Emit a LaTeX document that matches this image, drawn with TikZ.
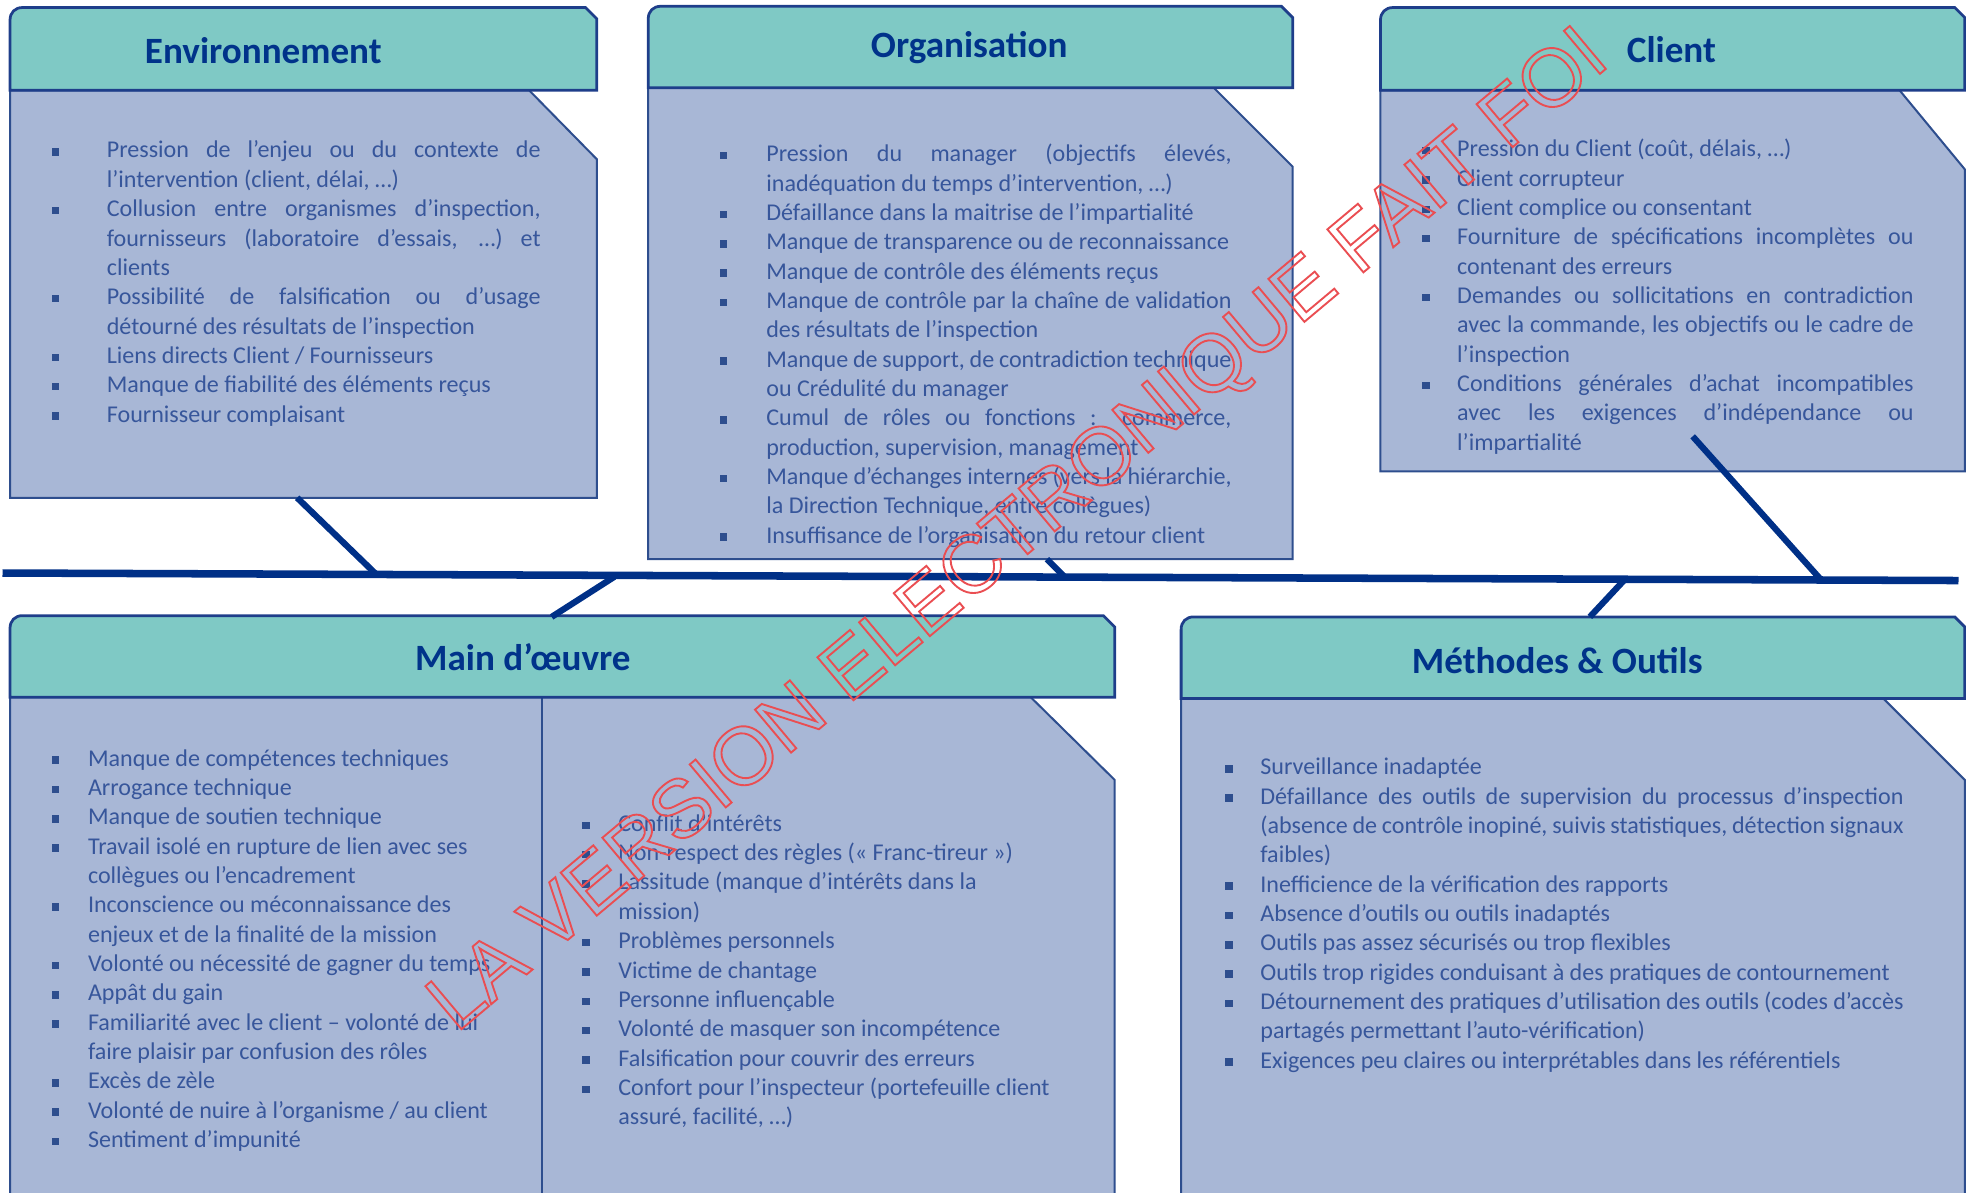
\documentclass[tikz,border=0pt]{standalone}
\usepackage{fontspec}
\setmainfont{Carlito}
\newfontfamily\wmfont{Liberation Sans}
\usetikzlibrary{calc}

\definecolor{headfill}{RGB}{127,201,197}
\definecolor{bodyfill}{RGB}{168,183,214}
\definecolor{edgeblue}{RGB}{46,78,142}
\definecolor{headedge}{RGB}{30,62,138}
\definecolor{spineblue}{RGB}{0,48,135}
\definecolor{titleblue}{RGB}{0,51,138}
\definecolor{textblue}{RGB}{55,86,155}
\definecolor{markred}{RGB}{234,78,82}

% list helpers: bullet + justified / left line, continuation lines
\newlength\bulw \newlength\txtw
\newcommand\bulmark{\textcolor{edgeblue}{\rule[1.8pt]{6pt}{6pt}}}
\newcommand\ibj[1]{\par\noindent\hbox to \bulw{\bulmark\hss}\makebox[\txtw][s]{#1}}
\newcommand\ibl[1]{\par\noindent\hbox to \bulw{\bulmark\hss}#1}
\newcommand\icj[1]{\par\noindent\hspace*{\bulw}\makebox[\txtw][s]{#1}}
\newcommand\icl[1]{\par\noindent\hspace*{\bulw}#1}

\tikzset{
  headbox/.style={fill=headfill, draw=headedge, line width=2.2pt, line join=miter},
  bodybox/.style={fill=bodyfill, draw=edgeblue, line width=1.6pt},
  titletext/.style={anchor=base, inner sep=0pt, text=titleblue, font=\bfseries\fontsize{29.6}{34}\selectfont},
  listtext/.style={anchor=base west, inner sep=0pt, text=textblue, font=\fontsize{19.2}{23.4}\selectfont},
  spine/.style={draw=spineblue, line width=6pt},
  branch/.style={draw=spineblue, line width=5pt},
}

\begin{document}
\begin{tikzpicture}[x=1pt, y=-1pt]
\useasboundingbox (0,0) rectangle (1568,951);
\clip (0,0) rectangle (1568,951);

% ---------- Environnement ----------
\draw[bodybox] (8,72) -- (422,72) -- (476,127) -- (476,397) -- (8,397) -- cycle;
\draw[headbox] (8,72) -- (8,16) .. controls (8,10) and (12,6) .. (18,6) -- (467,6) -- (476,15) -- (476,72) -- cycle;
\node[titletext] (tenv) at (210,51) {Environnement};
\node[listtext] (lenv) at (41,126) {\parbox[t]{440pt}{\setlength\bulw{44pt}\setlength\txtw{346pt}%
\ibj{Pression de l’enjeu ou du contexte de}
\icl{l’intervention (client, délai, …)}
\ibj{Collusion entre organismes d’inspection,}
\icj{fournisseurs (laboratoire d’essais, …) et}
\icl{clients}
\ibj{Possibilité de falsification ou d’usage}
\icl{détourné des résultats de l’inspection}
\ibl{Liens directs Client / Fournisseurs}
\ibl{Manque de fiabilité des éléments reçus}
\ibl{Fournisseur complaisant}}};

% ---------- Organisation ----------
\draw[bodybox] (517,70) -- (968,70) -- (1031,133) -- (1031,446) -- (517,446) -- cycle;
\draw[headbox] (517,70) -- (517,15) .. controls (517,9) and (521,5) .. (527,5) -- (1022,5) -- (1031,14) -- (1031,70) -- cycle;
\node[titletext] (torg) at (773,46) {Organisation};
\node[listtext] (lorg) at (574,129) {\parbox[t]{440pt}{\setlength\bulw{37pt}\setlength\txtw{371pt}%
\ibj{Pression du manager (objectifs élevés,}
\icl{inadéquation du temps d’intervention, …)}
\ibl{Défaillance dans la maitrise de l’impartialité}
\ibl{Manque de transparence ou de reconnaissance}
\ibl{Manque de contrôle des éléments reçus}
\ibj{Manque de contrôle par la chaîne de validation}
\icl{des résultats de l’inspection}
\ibj{Manque de support, de contradiction technique}
\icl{ou Crédulité du manager}
\ibj{Cumul de rôles ou fonctions : commerce,}
\icl{production, supervision, management}
\ibj{Manque d’échanges internes (vers la hiérarchie,}
\icl{la Direction Technique, entre collègues)}
\ibl{Insuffisance de l’organisation du retour client}}};

% ---------- Client ----------
\draw[bodybox] (1101,72) -- (1515,72) -- (1567,135) -- (1567,376) -- (1101,376) -- cycle;
\draw[headbox] (1101,72) -- (1101,16) .. controls (1101,10) and (1105,6) .. (1111,6) -- (1559,6) -- (1567,14) -- (1567,72) -- cycle;
\node[titletext] (tcli) at (1333,50) {Client};
\node[listtext] (lcli) at (1134,125) {\parbox[t]{420pt}{\setlength\bulw{28pt}\setlength\txtw{364pt}%
\ibl{Pression du Client (coût, délais, …)}
\ibl{Client corrupteur}
\ibl{Client complice ou consentant}
\ibj{Fourniture de spécifications incomplètes ou}
\icl{contenant des erreurs}
\ibj{Demandes ou sollicitations en contradiction}
\icj{avec la commande, les objectifs ou le cadre de}
\icl{l’inspection}
\ibj{Conditions générales d’achat incompatibles}
\icj{avec les exigences d’indépendance ou}
\icl{l’impartialité}}};

% ---------- Main d'oeuvre ----------
\draw[bodybox] (8,556) -- (822,556) -- (889,622) -- (889,965) -- (8,965) -- cycle;
\draw[edgeblue, line width=1.6pt] (432,556) -- (432,965);
\draw[headbox] (8,556) -- (8,501) .. controls (8,495) and (12,491) .. (18,491) -- (880,491) -- (889,500) -- (889,556) -- cycle;
\node[titletext] (tmo) at (417,535) {Main d’œuvre};
\node[listtext] (lmo1) at (41,611) {\parbox[t]{400pt}{\setlength\bulw{29pt}%
\ibl{Manque de compétences techniques}
\ibl{Arrogance technique}
\ibl{Manque de soutien technique}
\ibl{Travail isolé en rupture de lien avec ses}
\icl{collègues ou l’encadrement}
\ibl{Inconscience ou méconnaissance des}
\icl{enjeux et de la finalité de la mission}
\ibl{Volonté ou nécessité de gagner du temps}
\ibl{Appât du gain}
\ibl{Familiarité avec le client – volonté de lui}
\icl{faire plaisir par confusion des rôles}
\ibl{Excès de zèle}
\ibl{Volonté de nuire à l’organisme / au client}
\ibl{Sentiment d’impunité}}};
\node[listtext] (lmo2) at (464,663) {\parbox[t]{420pt}{\setlength\bulw{29pt}%
\ibl{Conflit d’intérêts}
\ibl{Non-respect des règles («~Franc-tireur~»)}
\ibl{Lassitude (manque d’intérêts dans la}
\icl{mission)}
\ibl{Problèmes personnels}
\ibl{Victime de chantage}
\ibl{Personne influençable}
\ibl{Volonté de masquer son incompétence}
\ibl{Falsification pour couvrir des erreurs}
\ibl{Confort pour l’inspecteur (portefeuille client}
\icl{assuré, facilité, …)}}};

% ---------- Methodes & Outils ----------
\draw[bodybox] (942,557) -- (1502,557) -- (1567,622) -- (1567,965) -- (942,965) -- cycle;
\draw[headbox] (942,557) -- (942,502) .. controls (942,496) and (946,492) .. (952,492) -- (1559,492) -- (1567,500) -- (1567,557) -- cycle;
\node[titletext] (tmeth) at (1242,537) {Méthodes \& Outils};
\node[listtext] (lmeth) at (977,618) {\parbox[t]{580pt}{\setlength\bulw{28pt}\setlength\txtw{513pt}%
\ibl{Surveillance inadaptée}
\ibj{Défaillance des outils de supervision du processus d’inspection}
\icj{(absence de contrôle inopiné, suivis statistiques, détection signaux}
\icl{faibles)}
\ibl{Inefficience de la vérification des rapports}
\ibl{Absence d’outils ou outils inadaptés}
\ibl{Outils pas assez sécurisés ou trop flexibles}
\ibl{Outils trop rigides conduisant à des pratiques de contournement}
\ibj{Détournement des pratiques d’utilisation des outils (codes d’accès}
\icl{partagés permettant l’auto-vérification)}
\ibl{Exigences peu claires ou interprétables dans les référentiels}}};

% ---------- spine and branches ----------
\coordinate (spl) at (2,457);
\coordinate (spr) at (1562,463);
\draw[spine] (spl) -- (spr);
\coordinate (envfoot) at (237,397);  \coordinate (envjoin) at (300,458);
\coordinate (mohead)  at (440,492);  \coordinate (mojoin)  at (490,460);
\coordinate (orgfoot) at (835,446);  \coordinate (orgjoin) at (850,461);
\coordinate (mthead)  at (1268,492); \coordinate (mtjoin)  at (1296,462);
\coordinate (clifoot) at (1350,348); \coordinate (clijoin) at (1452,462);
\draw[branch] (envfoot) -- (envjoin);
\draw[branch] (mohead) -- (mojoin);
\draw[branch] (orgfoot) -- (orgjoin);
\draw[branch] (mthead) -- (mtjoin);
\draw[branch] (clifoot) -- (clijoin);

% ---------- outlined stamp text ----------
\node[rotate=40, inner sep=0pt, text=markred, font=\wmfont\fontsize{65}{70}\selectfont] (stamp) at (814,425)
  {\special{pdf:literal direct 1 Tr 1.5 w}LA VERSION ELECTRONIQUE FAIT FOI\special{pdf:literal direct 0 Tr}};
\end{tikzpicture}
\end{document}
